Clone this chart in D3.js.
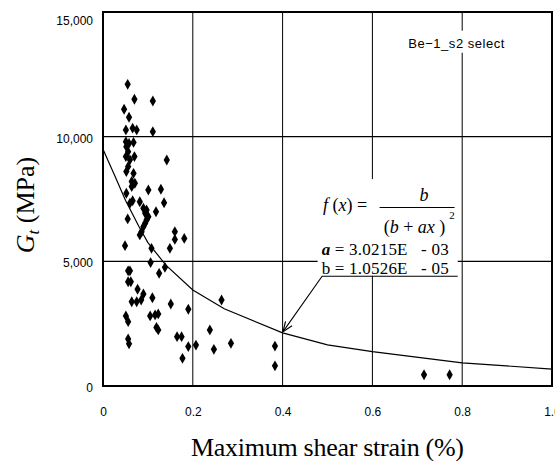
<!DOCTYPE html>
<html>
<head>
<meta charset="utf-8">
<script src="https://cdn.jsdelivr.net/npm/d3@7"></script>
<style>
  body { margin: 0; background: #fff; }
  svg { display: block; }
</style>
</head>
<body>
<svg id="chart"></svg>
<script>
// measured points (strain in %, Gt in MPa)
var strain = [0.055, 0.070, 0.111, 0.047, 0.058, 0.051, 0.066, 0.075, 0.111,
  0.051, 0.058, 0.068, 0.052, 0.056, 0.051, 0.070, 0.060, 0.056, 0.052, 0.068, 0.064, 0.071, 0.052, 0.064,
  0.142, 0.101, 0.129,
  0.060, 0.066, 0.082, 0.136, 0.090, 0.097, 0.094, 0.118, 0.101, 0.097, 0.055, 0.090, 0.094, 0.086, 0.082,
  0.160, 0.181, 0.160, 0.049, 0.108, 0.149,
  0.106, 0.138, 0.125, 0.056, 0.060, 0.056, 0.062, 0.077, 0.090, 0.064, 0.075, 0.085, 0.110, 0.151, 0.190,
  0.264, 0.051, 0.056, 0.105, 0.116, 0.123, 0.119, 0.123, 0.238, 0.056, 0.058, 0.165, 0.175, 0.190, 0.207,
  0.247, 0.285, 0.383, 0.383, 0.177, 0.715, 0.772];
var modulus = [12100, 11500, 11430, 11100, 10780, 10270, 10340, 10270, 10200,
  9800, 9730, 9770, 9600, 9400, 9200, 9200, 9070, 8800, 8600, 8530, 8200, 8130, 7730, 8000,
  9065, 7860, 7890,
  7330, 7430, 7390, 7350, 7130, 7060, 6930, 6990, 6790, 6660, 6700, 6390, 6530, 6190, 6060,
  6190, 5920, 5880, 5630, 5520, 5520,
  4950, 4760, 4520, 4620, 4620, 4180, 4180, 3880, 3690, 3380, 3380, 3450, 3540, 3290, 3080,
  3450, 2810, 2580, 2810, 2850, 2890, 2350, 2250, 2250, 1890, 1690, 1980, 1980, 1580, 1640,
  1470, 1710, 1600, 810, 1110, 450, 450];

// fitted curve as drawn
var fitStrain = [0, 0.027, 0.05, 0.08, 0.1, 0.14, 0.2, 0.27, 0.4, 0.5, 0.6, 0.8, 1.0];
var fitModulus = [9500, 8400, 7450, 6400, 5750, 4850, 3850, 3100, 2130, 1650, 1380, 930, 680];

var xTicks = [0, 0.2, 0.4, 0.6, 0.8, 1.0];
var yTicks = [0, 5000, 10000, 15000];
var xGrid = [0.2, 0.4, 0.6, 0.8];
var yGrid = [5000, 10000];

var margin = {top: 12, right: 3, bottom: 75, left: 103};
var width = 449;
var height = 374;

var svg = d3.select("#chart")
    .attr("width", 555)
    .attr("height", 461)
  .append("g")
    .attr("transform", "translate(" + margin.left + "," + margin.top + ")");

var x = d3.scaleLinear().domain([0, 1]).range([0, width]);
var y = d3.scaleLinear().domain([0, 15000]).range([height, 0]);

// grid
svg.append("g")
  .selectAll("line")
  .data(xGrid)
  .join("line")
    .attr("x1", d => x(d)).attr("x2", d => x(d))
    .attr("y1", 0).attr("y2", height)
    .attr("stroke", "#000").attr("stroke-width", 1);
svg.append("g")
  .selectAll("line")
  .data(yGrid)
  .join("line")
    .attr("y1", d => y(d)).attr("y2", d => y(d))
    .attr("x1", 0).attr("x2", width)
    .attr("stroke", "#000").attr("stroke-width", 1.2);

// axes (labels only)
var xAxis = svg.append("g")
    .attr("transform", "translate(0," + height + ")")
    .call(d3.axisBottom(x).tickValues(xTicks).tickSize(0).tickPadding(21).tickFormat(d3.format(".1f")));
xAxis.selectAll("text").text(d => d === 0 ? "0" : d3.format(".1f")(d));
var yAxis = svg.append("g")
    .call(d3.axisLeft(y).tickValues(yTicks).tickSize(0).tickPadding(10).tickFormat(d3.format(",")));
yAxis.selectAll("text").attr("dy", d => d === 15000 ? "1.0em" : "0.45em");
svg.selectAll(".domain").remove();
svg.selectAll(".tick text")
    .attr("fill", "#000")
    .style("font-family", "'Liberation Sans', Arial, sans-serif")
    .style("font-size", "12px");

// fitted curve
svg.append("path")
    .datum(fitStrain.map((s, i) => [s, fitModulus[i]]))
    .attr("fill", "none")
    .attr("stroke", "#000")
    .attr("stroke-width", 1.2)
    .attr("d", d3.line().x(d => x(d[0])).y(d => y(d[1])));

// points
svg.append("g")
  .selectAll("path")
  .data(strain.map((s, i) => [s, modulus[i]]))
  .join("path")
    .attr("transform", d => "translate(" + x(d[0]) + "," + y(d[1]) + ")")
    .attr("d", d3.symbol(d3.symbolDiamond, 34))
    .attr("fill", "#000");

// frame
svg.append("rect")
    .attr("width", width).attr("height", height)
    .attr("fill", "none").attr("stroke", "#000").attr("stroke-width", 2);

// sample label
var lab = svg.append("g");
lab.append("rect")
    .attr("x", x(0.675)).attr("y", y(14250))
    .attr("width", 100).attr("height", 22)
    .attr("fill", "#fff");
lab.append("text")
    .attr("x", x(0.68)).attr("y", y(13550))
    .attr("textLength", 96)
    .style("font-family", "'Liberation Sans', Arial, sans-serif")
    .style("font-size", "13px")
    .text("Be−1_s2 select");

// formula box
var f = svg.append("g")
    .style("font-family", "'Liberation Serif', 'Times New Roman', serif")
    .attr("fill", "#000");
f.append("rect")
    .attr("x", x(0.478)).attr("y", y(8300))
    .attr("width", x(0.79) - x(0.478)).attr("height", y(4420) - y(8300))
    .attr("fill", "#fff");
f.append("text")
    .attr("x", x(0.49)).attr("y", y(7000))
    .style("font-size", "18px")
    .html("<tspan font-style='italic'>f</tspan> (<tspan font-style='italic'>x</tspan>) =");
f.append("text")
    .attr("x", x(0.715)).attr("y", y(7430))
    .attr("text-anchor", "middle")
    .style("font-size", "18px").style("font-style", "italic")
    .text("b");
f.append("line")
    .attr("x1", x(0.616)).attr("x2", x(0.783))
    .attr("y1", y(7160)).attr("y2", y(7160))
    .attr("stroke", "#000").attr("stroke-width", 1.2);
f.append("text")
    .attr("x", x(0.625)).attr("y", y(6130))
    .style("font-size", "18px")
    .html("(<tspan font-style='italic'>b</tspan> + <tspan font-style='italic'>ax</tspan> )");
f.append("text")
    .attr("x", x(0.771)).attr("y", y(6700))
    .style("font-size", "11px")
    .text("2");
f.append("text")
    .attr("x", x(0.487)).attr("y", y(5250))
    .attr("textLength", 127)
    .style("font-size", "17px")
    .html("<tspan font-style='italic' font-weight='bold'>a</tspan> = 3.0215E \u00a0\u00a0- 03");
f.append("text")
    .attr("x", x(0.487)).attr("y", y(4480))
    .attr("textLength", 127)
    .style("font-size", "17px")
    .text("b = 1.0526E \u00a0\u00a0- 05");

// leader with arrow
svg.append("defs").append("marker")
    .attr("id", "arrow")
    .attr("viewBox", "0 0 10 10")
    .attr("refX", 10).attr("refY", 5)
    .attr("markerWidth", 9).attr("markerHeight", 9)
    .attr("orient", "auto")
  .append("path")
    .attr("d", "M0,1 L10,5 L0,9")
    .attr("fill", "none").attr("stroke", "#000").attr("stroke-width", 1.2);
svg.append("path")
    .datum([[0.79, 4400], [0.488, 4400], [0.401, 2180]])
    .attr("fill", "none")
    .attr("stroke", "#000")
    .attr("stroke-width", 1.1)
    .attr("marker-end", "url(#arrow)")
    .attr("d", d3.line().x(d => x(d[0])).y(d => y(d[1])));

// axis titles
svg.append("text")
    .attr("x", width / 2)
    .attr("y", height + 70)
    .attr("text-anchor", "middle")
    .attr("textLength", 273)
    .style("font-family", "'Liberation Serif', 'Times New Roman', serif")
    .style("font-size", "26px")
    .text("Maximum shear strain (%)");

svg.append("text")
    .attr("transform", "rotate(-90)")
    .attr("x", -193)
    .attr("y", -margin.left + 34)
    .attr("text-anchor", "middle")
    .style("font-family", "'Liberation Serif', 'Times New Roman', serif")
    .style("font-size", "26px")
    .html("<tspan font-style='italic'>G</tspan><tspan font-style='italic' font-size='17px' dy='5'>t</tspan><tspan dy='-5'> (MPa)</tspan>");
</script>
</body>
</html>
